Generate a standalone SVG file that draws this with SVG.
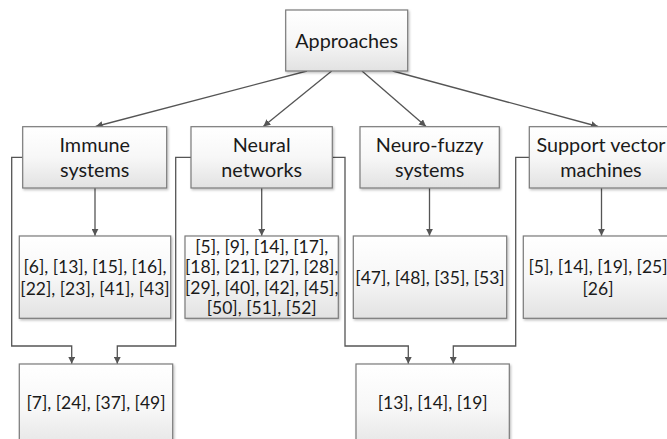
<svg xmlns="http://www.w3.org/2000/svg" width="667" height="439" viewBox="0 0 667 439">
<defs>
<linearGradient id="g" x1="0" y1="0" x2="0" y2="1">
<stop offset="0" stop-color="#ffffff"/>
<stop offset="0.5" stop-color="#f7f7f7"/>
<stop offset="1" stop-color="#e2e2e2"/>
</linearGradient>
<filter id="sh" x="-10%" y="-10%" width="130%" height="130%">
<feDropShadow dx="1.2" dy="1.5" stdDeviation="1" flood-color="#000" flood-opacity="0.25"/>
</filter>
<marker id="ah" viewBox="0 0 10 10" refX="10" refY="5" markerWidth="7" markerHeight="7" markerUnits="userSpaceOnUse" orient="auto">
<path d="M0,0 L10,5 L0,10 z" fill="#555"/>
</marker>
</defs>
<style>
.box{fill:url(#g);stroke:#7a7a7a;stroke-width:1.2;filter:url(#sh)}
.lbl{font-family:Lato,"Liberation Sans",sans-serif;font-size:19.8px;fill:#1a1a1a;text-anchor:middle}
.ref{font-family:Lato,"Liberation Sans",sans-serif;font-size:17.5px;fill:#1a1a1a;text-anchor:middle}
.c{fill:none;stroke:#555;stroke-width:1.3;marker-end:url(#ah)}
</style>
<rect width="667" height="439" fill="#ffffff"/>
<g id="connectors">
<line class="c" x1="307" y1="71" x2="95.7" y2="126.5"/>
<line class="c" x1="331.7" y1="71" x2="263.3" y2="126.5"/>
<line class="c" x1="362" y1="71" x2="426" y2="126.5"/>
<line class="c" x1="392.7" y1="71" x2="598" y2="126.5"/>
<line class="c" x1="95" y1="188" x2="95" y2="235.8"/>
<line class="c" x1="261.7" y1="188" x2="261.7" y2="235.8"/>
<line class="c" x1="429.5" y1="188" x2="429.5" y2="235.8"/>
<line class="c" x1="601.5" y1="188" x2="601.5" y2="235.8"/>
<polyline class="c" points="22.7,157.3 11.7,157.3 11.7,346 71.7,346 71.7,363.8"/>
<polyline class="c" points="191,157.3 175.7,157.3 175.7,346 117.3,346 117.3,363.8"/>
<polyline class="c" points="332.3,157.3 345,157.3 345,346 408.3,346 408.3,363.8"/>
<polyline class="c" points="529.3,157.3 515.7,157.3 515.7,346 453.3,346 453.3,363.8"/>
</g>
<g id="approaches">
<rect class="box" x="285.7" y="10" width="122" height="61"/>
<text class="lbl" x="346.7" y="48">Approaches</text>
</g>
<g id="immune">
<rect class="box" x="22.7" y="126.7" width="144" height="61.3"/>
<text class="lbl" x="94.7" y="152">Immune</text>
<text class="lbl" x="94.7" y="177">systems</text>
</g>
<g id="neural">
<rect class="box" x="191" y="126.7" width="141.3" height="61.3"/>
<text class="lbl" x="261.7" y="152">Neural</text>
<text class="lbl" x="261.7" y="177">networks</text>
</g>
<g id="neurofuzzy">
<rect class="box" x="360" y="126.7" width="139.3" height="61.3"/>
<text class="lbl" x="429.7" y="152">Neuro-fuzzy</text>
<text class="lbl" x="429.7" y="177">systems</text>
</g>
<g id="svm">
<rect class="box" x="529.3" y="126.7" width="143" height="61.3"/>
<text class="lbl" x="601" y="152">Support vector</text>
<text class="lbl" x="601" y="177">machines</text>
</g>
<g id="immune-refs">
<rect class="box" x="19.3" y="236" width="151.4" height="82.3"/>
<text class="ref" x="95" y="273">[6], [13], [15], [16],</text>
<text class="ref" x="95" y="294.5">[22], [23], [41], [43]</text>
</g>
<g id="neural-refs">
<rect class="box" x="185" y="236" width="153.3" height="82.3"/>
<text class="ref" x="261.7" y="252.5">[5], [9], [14], [17],</text>
<text class="ref" x="261.7" y="273">[18], [21], [27], [28],</text>
<text class="ref" x="261.7" y="293.5">[29], [40], [42], [45],</text>
<text class="ref" x="261.7" y="314">[50], [51], [52]</text>
</g>
<g id="neurofuzzy-refs">
<rect class="box" x="353.3" y="236" width="153.4" height="82.3"/>
<text class="ref" x="430" y="283.5">[47], [48], [35], [53]</text>
</g>
<g id="svm-refs">
<rect class="box" x="523.3" y="236" width="152" height="82.3"/>
<text class="ref" x="598" y="273">[5], [14], [19], [25]</text>
<text class="ref" x="598" y="294.5">[26]</text>
</g>
<g id="immune-neural-refs">
<rect class="box" x="19.3" y="364" width="153.4" height="90"/>
<text class="ref" x="96" y="409">[7], [24], [37], [49]</text>
</g>
<g id="neural-svm-refs">
<rect class="box" x="356" y="364" width="153.3" height="90"/>
<text class="ref" x="432.7" y="409">[13], [14], [19]</text>
</g>
</svg>
